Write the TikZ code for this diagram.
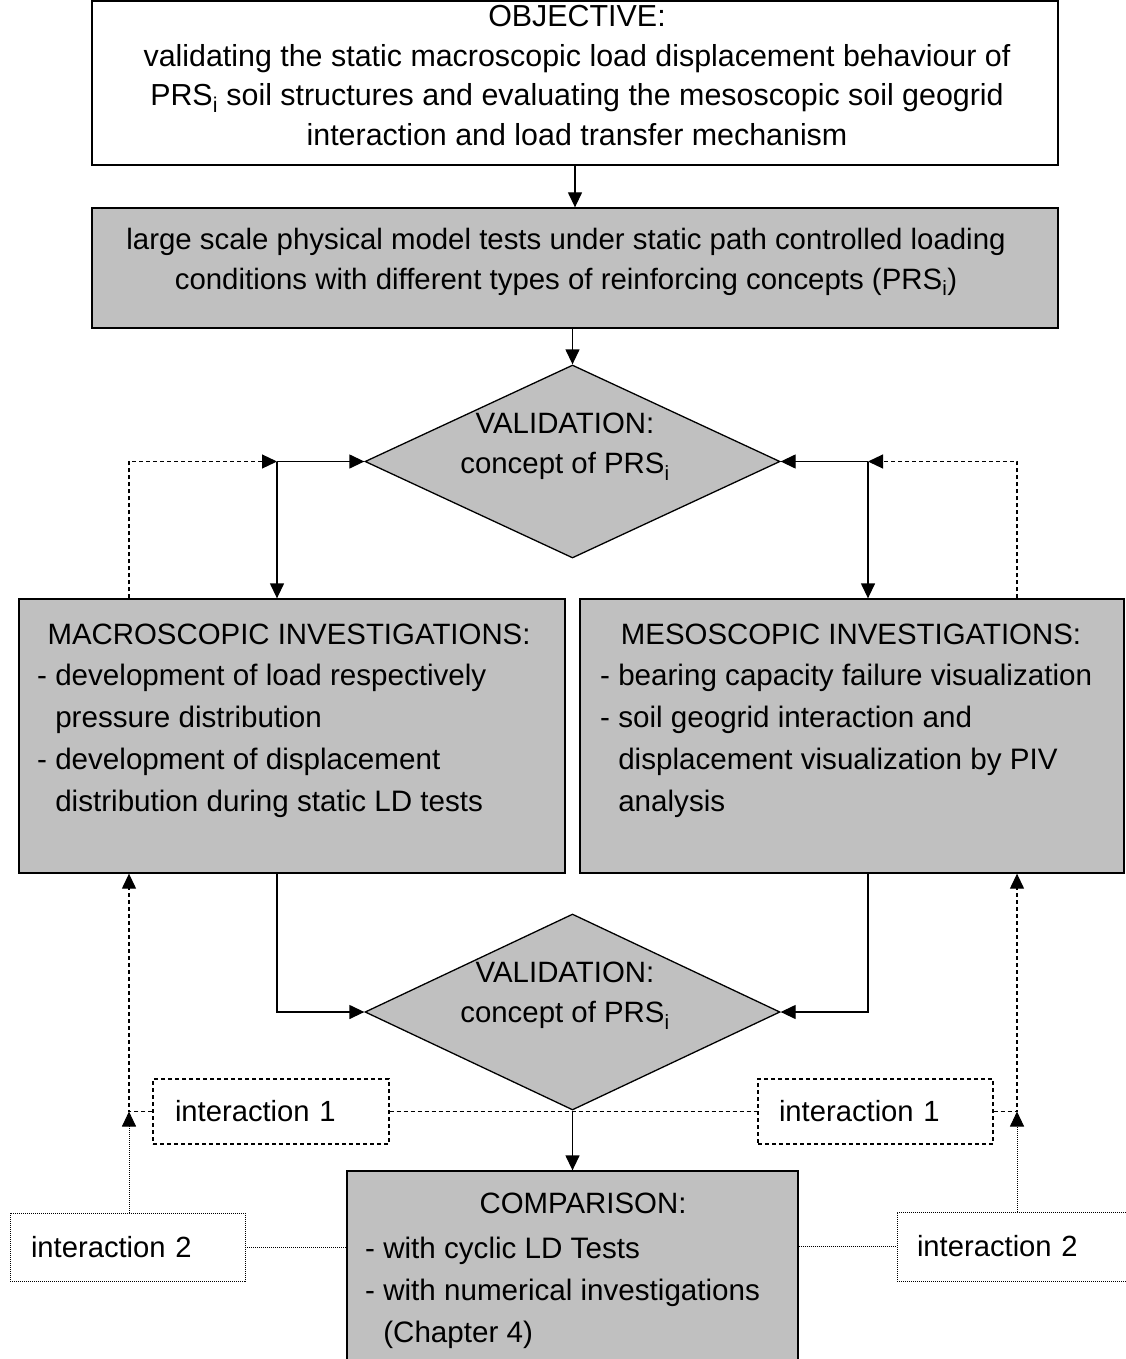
\documentclass[tikz,border=0pt]{standalone}
\usepackage{fontspec}
\setmainfont{Liberation Sans}
\usetikzlibrary{arrows.meta,shapes.geometric,calc}
\definecolor{boxgray}{RGB}{192,192,192}
\begin{document}
\begin{tikzpicture}[x=1pt,y=-1pt,
  box/.style={draw,line width=1.3pt,rectangle,inner sep=0pt,anchor=center},
  gbox/.style={box,fill=boxgray},
  dia/.style={draw,line width=1.3pt,diamond,fill=boxgray,inner sep=0pt},
  txt/.style={inner sep=0pt,anchor=north,align=center,font=\fontsize{29.4}{40}\selectfont},
  ltxt/.style={inner sep=0pt,anchor=north west,align=left,font=\fontsize{29.6}{42}\selectfont},
  itxt/.style={align=left,font=\fontsize{29.2}{40}\selectfont},
  arr/.style={line width=1.3pt,-{Triangle[length=15pt,width=14pt]}},
  con/.style={line width=1.3pt},
  dsh/.style={line width=1.2pt,dash pattern=on 4pt off 3pt},
  dtt/.style={line width=0.9pt,dash pattern=on 1pt off 1pt}
]
\useasboundingbox (0,0) rectangle (1125,1359);

% boxes
\node[box,minimum width=966pt,minimum height=164pt] (b1) at (575,83) {};
\node[gbox,minimum width=966pt,minimum height=120pt] (b2) at (575,268) {};
\node[dia,minimum width=415pt,minimum height=193pt] (d1) at (572.5,461.5) {};
\node[gbox,minimum width=546pt,minimum height=274pt] (b3) at (292,736) {};
\node[gbox,minimum width=544pt,minimum height=274pt] (b4) at (852,736) {};
\node[dia,minimum width=415pt,minimum height=196pt] (d2) at (572.5,1012) {};
\node[gbox,minimum width=451pt,minimum height=229pt] (b5) at (572.5,1285.5) {};

\node[box,dsh,itxt,minimum height=65pt,text width=192pt,inner xsep=22pt] (i1l) at (271,1111.5) {interaction 1};
\node[box,dsh,itxt,minimum height=65pt,text width=193pt,inner xsep=21pt] (i1r) at (875.5,1111.5) {interaction 1};
\node[box,dtt,itxt,minimum height=68pt,text width=193pt,inner xsep=21pt] (i2l) at (127.5,1247) {interaction 2};
\node[box,dtt,itxt,minimum height=69pt,text width=203pt,inner xsep=20pt] (i2r) at (1018.5,1246.5) {interaction 2};

% texts
\node[txt,font=\fontsize{30.4}{39.6}\selectfont] (t1) at (577,5) {OBJECTIVE:\\validating the static macroscopic load displacement behaviour of\\PRS\textsubscript{i} soil structures and evaluating the mesoscopic soil geogrid\\interaction and load transfer mechanism};
\node[txt] (t2) at (566,228) {large scale physical model tests under static path controlled loading\\conditions with different types of reinforcing concepts (PRS\textsubscript{i})};
\node[txt] (t3) at (565,413) {VALIDATION:\\concept of PRS\textsubscript{i}};
\node[txt] (t4) at (289,624) {MACROSCOPIC INVESTIGATIONS:};
\node[ltxt] (t5) at (37,664) {- development of load respectively\\\hphantom{- }pressure distribution\\- development of displacement\\\hphantom{- }distribution during static LD tests};
\node[txt] (t6) at (851,624) {MESOSCOPIC INVESTIGATIONS:};
\node[ltxt] (t7) at (600,664) {- bearing capacity failure visualization\\- soil geogrid interaction and\\\hphantom{- }displacement visualization by PIV\\\hphantom{- }analysis};
\node[txt] (t8) at (565,962) {VALIDATION:\\concept of PRS\textsubscript{i}};
\node[txt] (t9) at (583,1193) {COMPARISON:};
\node[ltxt] (t10) at (365,1237) {- with cyclic LD Tests\\- with numerical investigations\\\hphantom{- }(Chapter 4)};

% helper coordinates
\coordinate (j1) at (277,461.5);
\coordinate (j2) at (868,461.5);
\coordinate (xl) at (129,0);
\coordinate (xr) at (1017,0);

% connectors
\draw[arr] (b1.south) -- (b2.north);
\draw[arr] (b2.south -| d1.north) -- (d1.north);
\draw[arr] (j1) -- (d1.west);
\draw[arr] (j1) -- (j1 |- b3.north);
\draw[arr] (j2) -- (d1.east);
\draw[arr] (j2) -- (j2 |- b4.north);
\draw[dsh,-{Triangle[length=15pt,width=14pt]}] (b3.north -| xl) |- (j1);
\draw[dsh,-{Triangle[length=15pt,width=14pt]}] (b4.north -| xr) |- (j2);

\draw[arr] (b3.south -| j1) |- (d2.west);
\draw[arr] (b4.south -| j2) |- (d2.east);
\draw[arr] (d2.south) -- (b5.north);

\draw[dsh] (i1l.east) -- (i1r.west);
\draw[dsh,-{Triangle[length=15pt,width=14pt]}] (i1l.west) -| (b3.south -| xl);
\draw[dsh,-{Triangle[length=15pt,width=14pt]}] (i1r.east) -| (b4.south -| xr);

\draw[dtt,-{Triangle[length=15pt,width=14pt]}] (i2l.north -| xl) -- (i1l.west -| xl);
\draw[dtt,-{Triangle[length=15pt,width=14pt]}] (i2r.north -| xr) -- (i1r.east -| xr);
\draw[dtt] (i2l.east) -- (b5.west |- i2l.east);
\draw[dtt] (b5.east |- i2r.west) -- (i2r.west);
\end{tikzpicture}
\end{document}
